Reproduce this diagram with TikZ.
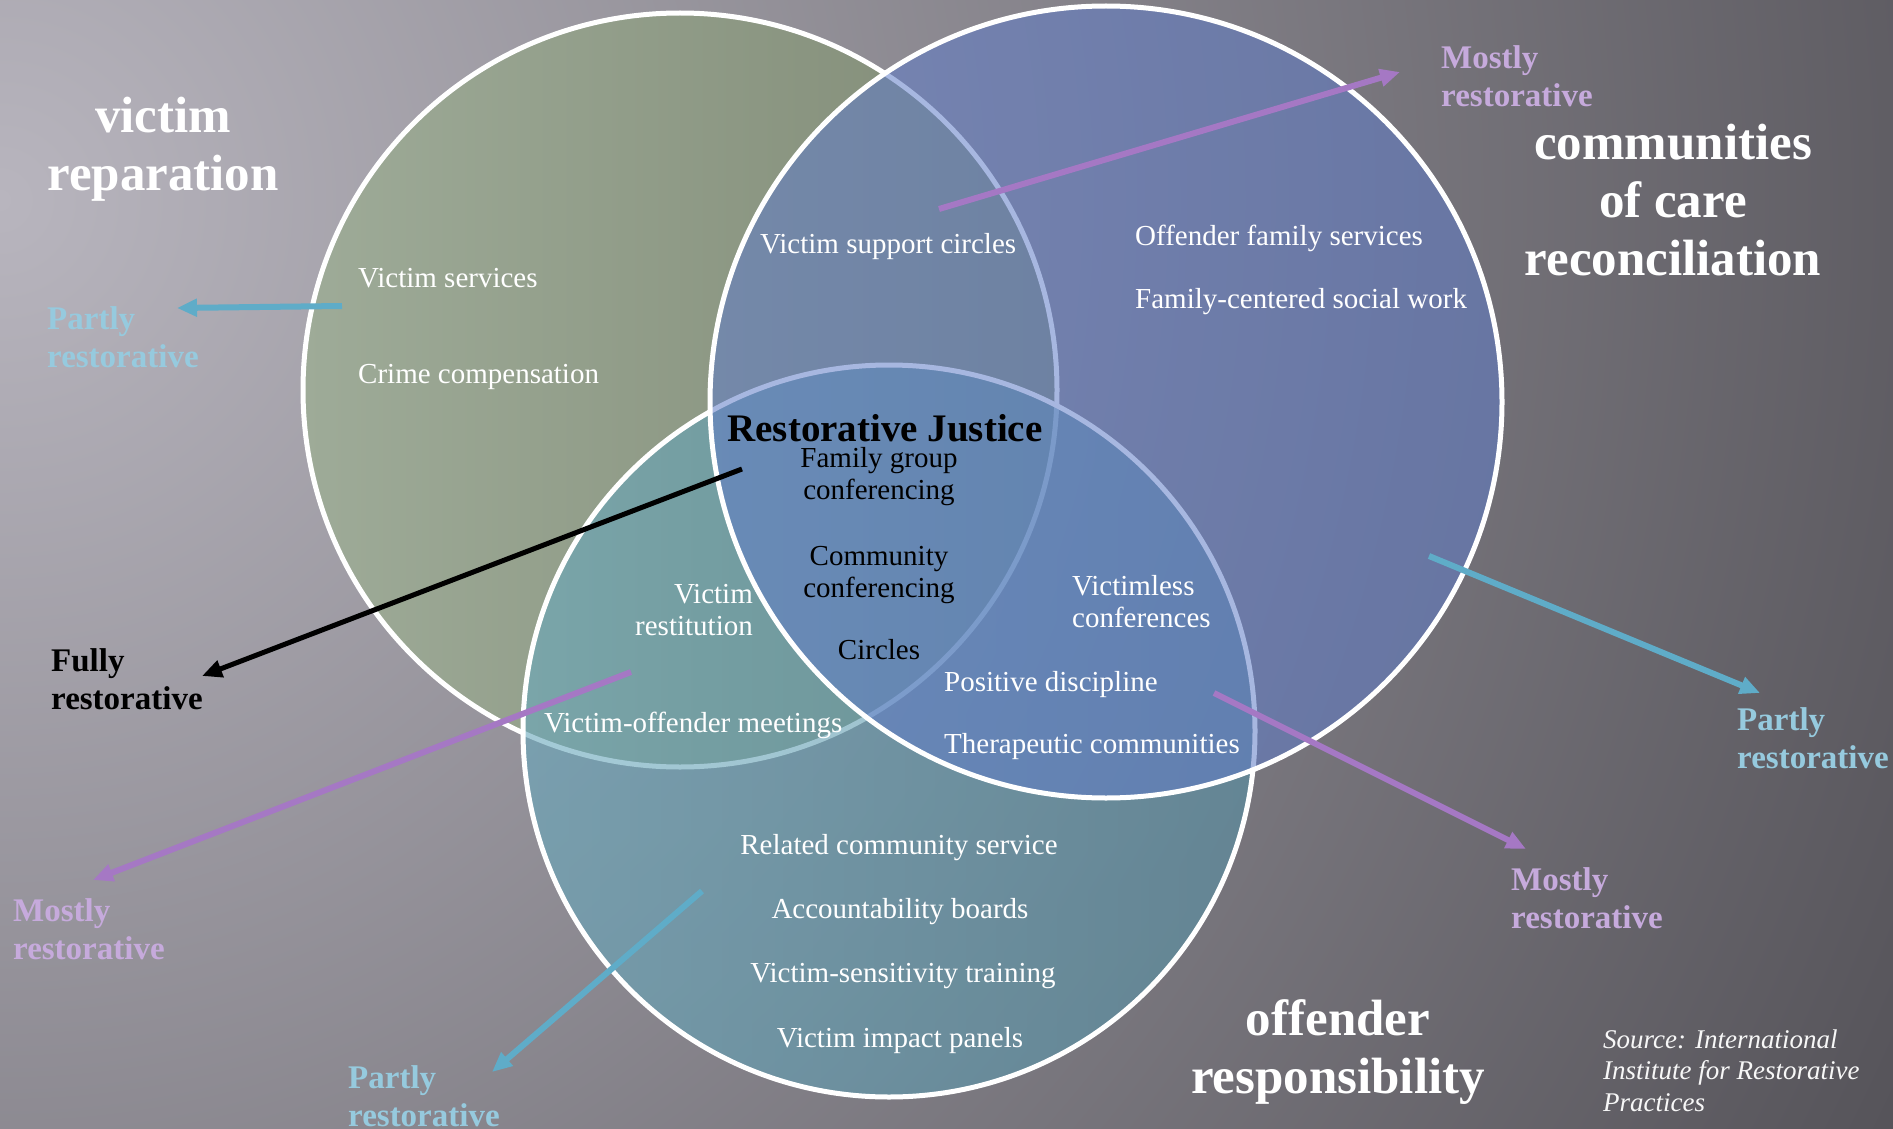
\documentclass[tikz,border=0pt]{standalone}
\usepackage{fontspec}
\setmainfont{Liberation Serif}
\usetikzlibrary{arrows.meta}
\definecolor{bgL}{RGB}{184,181,190}
\definecolor{bgD}{RGB}{86,84,90}
\definecolor{grnL}{RGB}{158,171,152}
\definecolor{grnR}{RGB}{128,138,117}
\definecolor{tealL}{RGB}{104,168,188}
\definecolor{tealR}{RGB}{88,144,164}
\definecolor{blu}{RGB}{96,124,200}
\definecolor{purA}{RGB}{165,120,196}
\definecolor{cyaA}{RGB}{95,172,200}
\definecolor{purT}{RGB}{198,170,220}
\definecolor{cyaT}{RGB}{150,202,222}
\tikzset{
  ring/.style={draw=white, line width=5pt},
  item/.style={text=white, font=\fontsize{29}{31.5}\selectfont, inner sep=0pt},
  citem/.style={text=black, font=\fontsize{29}{31.5}\selectfont, inner sep=0pt, align=center},
  cat/.style={text=white, font=\bfseries\fontsize{51}{58}\selectfont, inner sep=0pt, align=center},
  lvl/.style={font=\bfseries\fontsize{33}{38}\selectfont, inner sep=0pt, align=left, anchor=base west},
  arr/.style={line width=6pt, -{Triangle[length=20pt,width=17pt]}},
}
\begin{document}
\begin{tikzpicture}[x=1pt,y=-1pt]
\useasboundingbox (0,0) rectangle (1893,1129);
\begin{scope}
\clip (0,0) rectangle (1893,1129);
\fill[bgD] (0,0) rectangle (1893,1129);
\shade[inner color=bgL, outer color=bgD] (0,200) circle [radius=2100];
% circles
\shade[left color=grnL, right color=grnR] (680,390) circle [radius=377];
\draw[ring] (680,390) circle [radius=377];
\shade[left color=tealL, right color=tealR, opacity=0.6] (889,731) circle [radius=366];
\draw[ring] (889,731) circle [radius=366];
\fill[blu, opacity=0.55] (1106,402) circle [radius=396];
\draw[ring] (1106,402) circle [radius=396];
\end{scope}
% item labels
\node[item, anchor=base west] (vs) at (358,287) {Victim services};
\node[item, anchor=base west] (cc) at (358,383) {Crime compensation};
\node[item, anchor=base west] (vsc) at (760,253) {Victim support circles};
\node[item, anchor=base west] (ofs) at (1135,245) {Offender family services};
\node[item, anchor=base west] (fcs) at (1135,308) {Family-centered social work};
\node[anchor=base, font=\bfseries\fontsize{39}{44}\selectfont, inner sep=0pt] (rj) at (885,441) {Restorative Justice};
\node[citem, anchor=base] (fgc) at (879,499) {Family group\\conferencing};
\node[citem, anchor=base] (cmc) at (879,597) {Community\\conferencing};
\node[citem, anchor=base] (cir) at (879,659) {Circles};
\node[item, align=right, anchor=base east] (vr) at (753,635) {Victim\\restitution};
\node[item, align=left, anchor=base west] (vlc) at (1072,627) {Victimless\\conferences};
\node[item, anchor=base west] (pd) at (944,691) {Positive discipline};
\node[item, anchor=base west] (tc) at (944,753) {Therapeutic communities};
\node[item, anchor=base west] (vom) at (544,732) {Victim-offender meetings};
\node[item, anchor=base] (rcs) at (899,854) {Related community service};
\node[item, anchor=base] (ab) at (900,918) {Accountability boards};
\node[item, anchor=base] (vst) at (903,982) {Victim-sensitivity training};
\node[item, anchor=base] (vip) at (900,1047) {Victim impact panels};
% category labels
\node[cat, anchor=base] (cvr) at (163,190) {victim\\reparation};
\node[cat, anchor=base] (ccc) at (1673,275) {communities\\of care\\reconciliation};
\node[cat, anchor=base] (cor) at (1338,1093) {offender\\responsibility};
% level labels
\node[lvl, text=purT] (m1) at (1441,107) {Mostly\\restorative};
\node[lvl, text=cyaT] (p1) at (47,367) {Partly\\restorative};
\node[lvl, text=black] (f1) at (51,709) {Fully\\restorative};
\node[lvl, text=purT] (m2) at (13,959) {Mostly\\restorative};
\node[lvl, text=cyaT] (p2) at (348,1126) {Partly\\restorative};
\node[lvl, text=purT] (m3) at (1511,928) {Mostly\\restorative};
\node[lvl, text=cyaT] (p3) at (1737,768) {Partly\\restorative};
\node[anchor=base west, align=left, inner sep=0pt, text=white!94!gray, font=\itshape\fontsize{27}{31.5}\selectfont] (src) at (1603,1111) {Source: International\\Institute for Restorative\\Practices};
% arrows
\coordinate (a1s) at (939,209); \coordinate (a1e) at (1400,72);
\coordinate (a2s) at (342,306); \coordinate (a2e) at (177,308);
\coordinate (a3s) at (742,469); \coordinate (a3e) at (202,676);
\coordinate (a4s) at (631,672); \coordinate (a4e) at (93,880);
\coordinate (a5s) at (702,891); \coordinate (a5e) at (492,1072);
\coordinate (a6s) at (1214,693); \coordinate (a6e) at (1526,849);
\coordinate (a7s) at (1429,556); \coordinate (a7e) at (1760,693);
\draw[arr, purA] (a1s) -- (a1e);
\draw[arr, cyaA] (a2s) -- (a2e);
\draw[arr, black, line width=5pt] (a3s) -- (a3e);
\draw[arr, purA] (a4s) -- (a4e);
\draw[arr, cyaA] (a5s) -- (a5e);
\draw[arr, purA] (a6s) -- (a6e);
\draw[arr, cyaA] (a7s) -- (a7e);
\end{tikzpicture}
\end{document}
